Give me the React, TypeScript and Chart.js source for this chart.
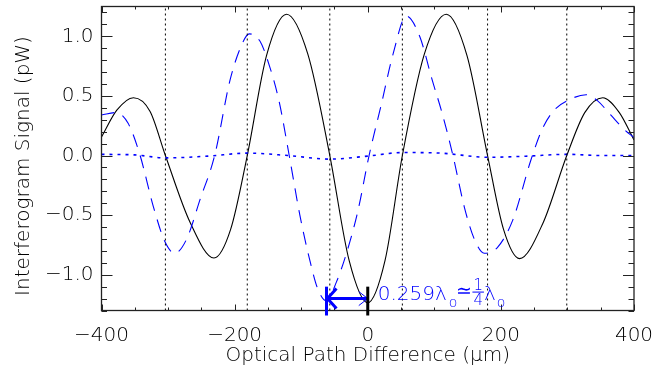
import React, { useEffect, useRef } from 'react';
import { Chart, registerables } from 'chart.js';

Chart.register(...registerables);

// ---- axis ranges & ticks ----
const X_MIN = -400;
const X_MAX = 400;
const Y_MIN = -1.3;
const Y_MAX = 1.25;
const xTickValues = [-400, -200, 0, 200, 400];
const yTickValues = [-1.0, -0.5, 0.0, 0.5, 1.0];

// ---- solid black interferogram ----
const solidX = [-400, -377, -352, -327, -304, -267, -231, -206, -181, -152, -122, -90, -57, -28, 0, 26, 52, 85, 118, 149, 180, 204, 228, 263, 299, 326, 353, 378, 400];
const solidY = [0.155, 0.38, 0.485, 0.37, 0.0, -0.56, -0.86, -0.62, 0.0, 0.84, 1.185, 0.85, 0.0, -0.88, -1.235, -0.88, 0.0, 0.85, 1.185, 0.84, 0.0, -0.62, -0.865, -0.57, 0.0, 0.36, 0.485, 0.36, 0.13];

// ---- blue dashed (shifted) interferogram ----
const dashedX = [-400, -378, -360, -342, -322, -305, -290, -272, -252, -230, -207, -190, -178, -162, -147, -133, -118, -102, -87, -75, -62, -47, -32, -15, 2, 20, 38, 58, 78, 97, 112, 128, 145, 160, 175, 195, 218, 245, 262, 280, 300, 328, 345, 365, 385, 400];
const dashedY = [0.34, 0.36, 0.27, 0.0, -0.43, -0.72, -0.82, -0.7, -0.37, 0.0, 0.63, 0.92, 1.02, 0.96, 0.74, 0.45, 0.0, -0.5, -0.88, -1.12, -1.22, -1.06, -0.82, -0.47, 0.0, 0.42, 0.85, 1.17, 1.0, 0.63, 0.35, 0.0, -0.43, -0.7, -0.82, -0.77, -0.54, -0.04, 0.22, 0.38, 0.46, 0.51, 0.46, 0.34, 0.22, 0.15];

// ---- blue dotted (difference) ----
const dottedX = [-400, -350, -304, -240, -181, -120, -57, 0, 52, 110, 180, 240, 299, 350, 400];
const dottedY = [0.01, 0.005, -0.02, -0.005, 0.02, 0.0, -0.03, -0.005, 0.025, 0.02, -0.015, -0.005, 0.01, 0.0, 0.0];

// ---- vertical dotted reference lines (zero crossings) ----
const zeroCrossX = [-304, -181, -57, 52, 180, 299];

// ---- annotation ----
const shiftStartX = -62;
const shiftEndX = 0;
const arrowY = -1.2;
const annotMain = '0.259\u03bb';
const annotSub = 'o';
const annotApprox = '\u2243';
const annotNum = '1';
const annotDen = '4';
const annotLambda = '\u03bb';

const xTitle = 'Optical Path Difference (\u00b5m)';
const yTitle = 'Interferogram Signal (pW)';

const FONT = '"DejaVu Sans", sans-serif';
const WEIGHT = '200';
const TEXT_COLOR = '#000';
const BLUE = '#0000ff';
const TEXT_BLUE = '#0000ff';

const toPts = (xs: number[], ys: number[]) => xs.map((x, i) => ({ x, y: ys[i] }));
const fmt = (v: number, digits: number) => {
  const s = Math.abs(v) < 1e-9 ? (0).toFixed(digits) : v.toFixed(digits);
  return s.replace('-', '\u2212');
};

const decorPlugin = {
  id: 'decor',
  afterDatasetsDraw(chart: any) {
    const { ctx, chartArea: a, scales } = chart;
    const xs = scales.x;
    const ys = scales.y;
    ctx.save();
    const seg = (x1: number, y1: number, x2: number, y2: number) => {
      ctx.beginPath();
      ctx.moveTo(x1, y1);
      ctx.lineTo(x2, y2);
      ctx.stroke();
    };
    // frame
    ctx.strokeStyle = '#222';
    ctx.lineWidth = 1.3;
    ctx.setLineDash([]);
    ctx.strokeRect(a.left, a.top, a.right - a.left, a.bottom - a.top);
    ctx.lineWidth = 1;
    // x ticks (every 50, major every 200)
    for (let i = -8; i <= 8; i++) {
      const v = i * 50;
      const px = Math.round(xs.getPixelForValue(v)) + 0.5;
      const len = i % 4 === 0 ? 6 : 3;
      seg(px, a.bottom, px, a.bottom - len);
      seg(px, a.top, px, a.top + len);
    }
    // y ticks (every 0.1, major every 0.5)
    for (let i = -13; i <= 12; i++) {
      const v = i / 10;
      const py = Math.round(ys.getPixelForValue(v)) + 0.5;
      const len = i % 5 === 0 ? 11 : 5.5;
      seg(a.left, py, a.left + len, py);
      seg(a.right, py, a.right - len, py);
    }

    // annotation: shift marker
    const xsP = xs.getPixelForValue(shiftStartX);
    const xeP = xs.getPixelForValue(shiftEndX);
    const yA = ys.getPixelForValue(arrowY);
    const barTop = ys.getPixelForValue(-1.1);
    const barBot = a.bottom + 5;
    ctx.lineCap = 'butt';
    ctx.strokeStyle = BLUE;
    ctx.lineWidth = 3;
    seg(xsP, barTop, xsP, barBot);
    seg(xsP, yA, xeP, yA);
    ctx.beginPath();
    ctx.moveTo(xsP + 10, yA - 10);
    ctx.lineTo(xsP + 1, yA);
    ctx.lineTo(xsP + 10, yA + 10);
    ctx.stroke();
    ctx.lineWidth = 1;
    ctx.beginPath();
    ctx.moveTo(xeP - 9, yA - 7);
    ctx.lineTo(xeP, yA);
    ctx.lineTo(xeP - 9, yA + 7);
    ctx.stroke();
    ctx.strokeStyle = '#000';
    ctx.lineWidth = 3;
    seg(xeP, barTop, xeP, barBot);

    // annotation text
    const base = yA + 1;
    let tx = xeP + 10;
    ctx.fillStyle = TEXT_BLUE;
    ctx.textBaseline = 'alphabetic';
    ctx.textAlign = 'left';
    ctx.font = `${WEIGHT} 20px ${FONT}`;
    ctx.fillText(annotMain, tx, base);
    tx += ctx.measureText(annotMain).width + 2;
    ctx.font = `${WEIGHT} 14px ${FONT}`;
    ctx.fillText(annotSub, tx, base + 7);
    tx += ctx.measureText(annotSub).width - 1;
    ctx.font = `300 19px ${FONT}`;
    ctx.fillText(annotApprox, tx, base - 3);
    tx += ctx.measureText(annotApprox).width;
    ctx.font = `${WEIGHT} 15px ${FONT}`;
    const fw = Math.max(ctx.measureText(annotNum).width, ctx.measureText(annotDen).width);
    ctx.fillText(annotNum, tx + 1, base - 9.5);
    ctx.fillText(annotDen, tx + 1, base + 5.5);
    ctx.strokeStyle = TEXT_BLUE;
    ctx.lineWidth = 1;
    seg(tx, base - 7.5, tx + fw + 2, base - 7.5);
    tx += fw + 2;
    ctx.font = `${WEIGHT} 20px ${FONT}`;
    ctx.fillText(annotLambda, tx, base);
    tx += ctx.measureText(annotLambda).width + 1;
    ctx.font = `${WEIGHT} 14px ${FONT}`;
    ctx.fillText(annotSub, tx, base + 7);

    // axis titles
    ctx.fillStyle = TEXT_COLOR;
    ctx.font = `${WEIGHT} 20px ${FONT}`;
    ctx.textAlign = 'center';
    ctx.textBaseline = 'alphabetic';
    ctx.fillText(xTitle, (a.left + a.right) / 2, 361);
    ctx.translate(29, 166);
    ctx.rotate(-Math.PI / 2);
    ctx.fillText(yTitle, 0, 0);
    ctx.restore();
  },
};

export default function App() {
  const ref = useRef<HTMLCanvasElement | null>(null);
  useEffect(() => {
    if (!ref.current) return;
    const vLines = zeroCrossX.map((v) => ({
      data: [{ x: v, y: Y_MIN }, { x: v, y: Y_MAX }],
      borderColor: '#000',
      borderWidth: 1,
      borderDash: [2, 3],
      pointRadius: 0,
      fill: false,
    }));
    const chart = new Chart(ref.current, {
      type: 'line',
      data: {
        datasets: [
          ...vLines,
          {
            data: toPts(dottedX, dottedY),
            borderColor: BLUE,
            borderWidth: 1.6,
            borderDash: [3, 5],
            pointRadius: 0,
            cubicInterpolationMode: 'monotone',
            fill: false,
          },
          {
            data: toPts(dashedX, dashedY),
            borderColor: BLUE,
            borderWidth: 1.1,
            borderDash: [13, 9],
            pointRadius: 0,
            cubicInterpolationMode: 'monotone',
            fill: false,
          },
          {
            data: toPts(solidX, solidY),
            borderColor: '#000',
            borderWidth: 1.1,
            pointRadius: 0,
            cubicInterpolationMode: 'monotone',
            fill: false,
          },
        ] as any,
      },
      options: {
        animation: false,
        responsive: false,
        devicePixelRatio: 1,
        layout: { padding: { left: 0, right: 20, top: 6.5, bottom: 0 } },
        plugins: { legend: { display: false }, tooltip: { enabled: false }, title: { display: false } },
        scales: {
          x: {
            type: 'linear',
            min: X_MIN,
            max: X_MAX,
            grid: { display: false, drawTicks: false },
            border: { display: false },
            ticks: {
              padding: 13,
              color: TEXT_COLOR,
              font: { family: FONT, size: 20, weight: WEIGHT },
              maxRotation: 0,
              autoSkip: false,
              callback: (v: any) => fmt(Number(v), 0),
            },
            afterBuildTicks: (s: any) => {
              s.ticks = xTickValues.map((v) => ({ value: v }));
            },
            afterFit: (s: any) => {
              s.height = 61.5;
              s.paddingLeft = 0;
              s.paddingRight = 0;
            },
          },
          y: {
            type: 'linear',
            min: Y_MIN,
            max: Y_MAX,
            grid: { display: false, drawTicks: false },
            border: { display: false },
            ticks: {
              padding: 8,
              color: TEXT_COLOR,
              font: { family: FONT, size: 20, weight: WEIGHT },
              autoSkip: false,
              callback: (v: any) => fmt(Number(v), 1),
            },
            afterBuildTicks: (s: any) => {
              s.ticks = yTickValues.map((v) => ({ value: v }));
            },
            afterFit: (s: any) => {
              s.width = 101.5;
              s.paddingTop = 0;
              s.paddingBottom = 0;
            },
          },
        },
      } as any,
      plugins: [decorPlugin],
    });
    return () => chart.destroy();
  }, []);
  return (
    <div style={{ position: 'fixed', left: 0, top: 0, width: 654, height: 372, background: '#fff' }}>
      <canvas ref={ref} width={654} height={372} style={{ display: 'block', width: 654, height: 372 }} />
    </div>
  );
}
